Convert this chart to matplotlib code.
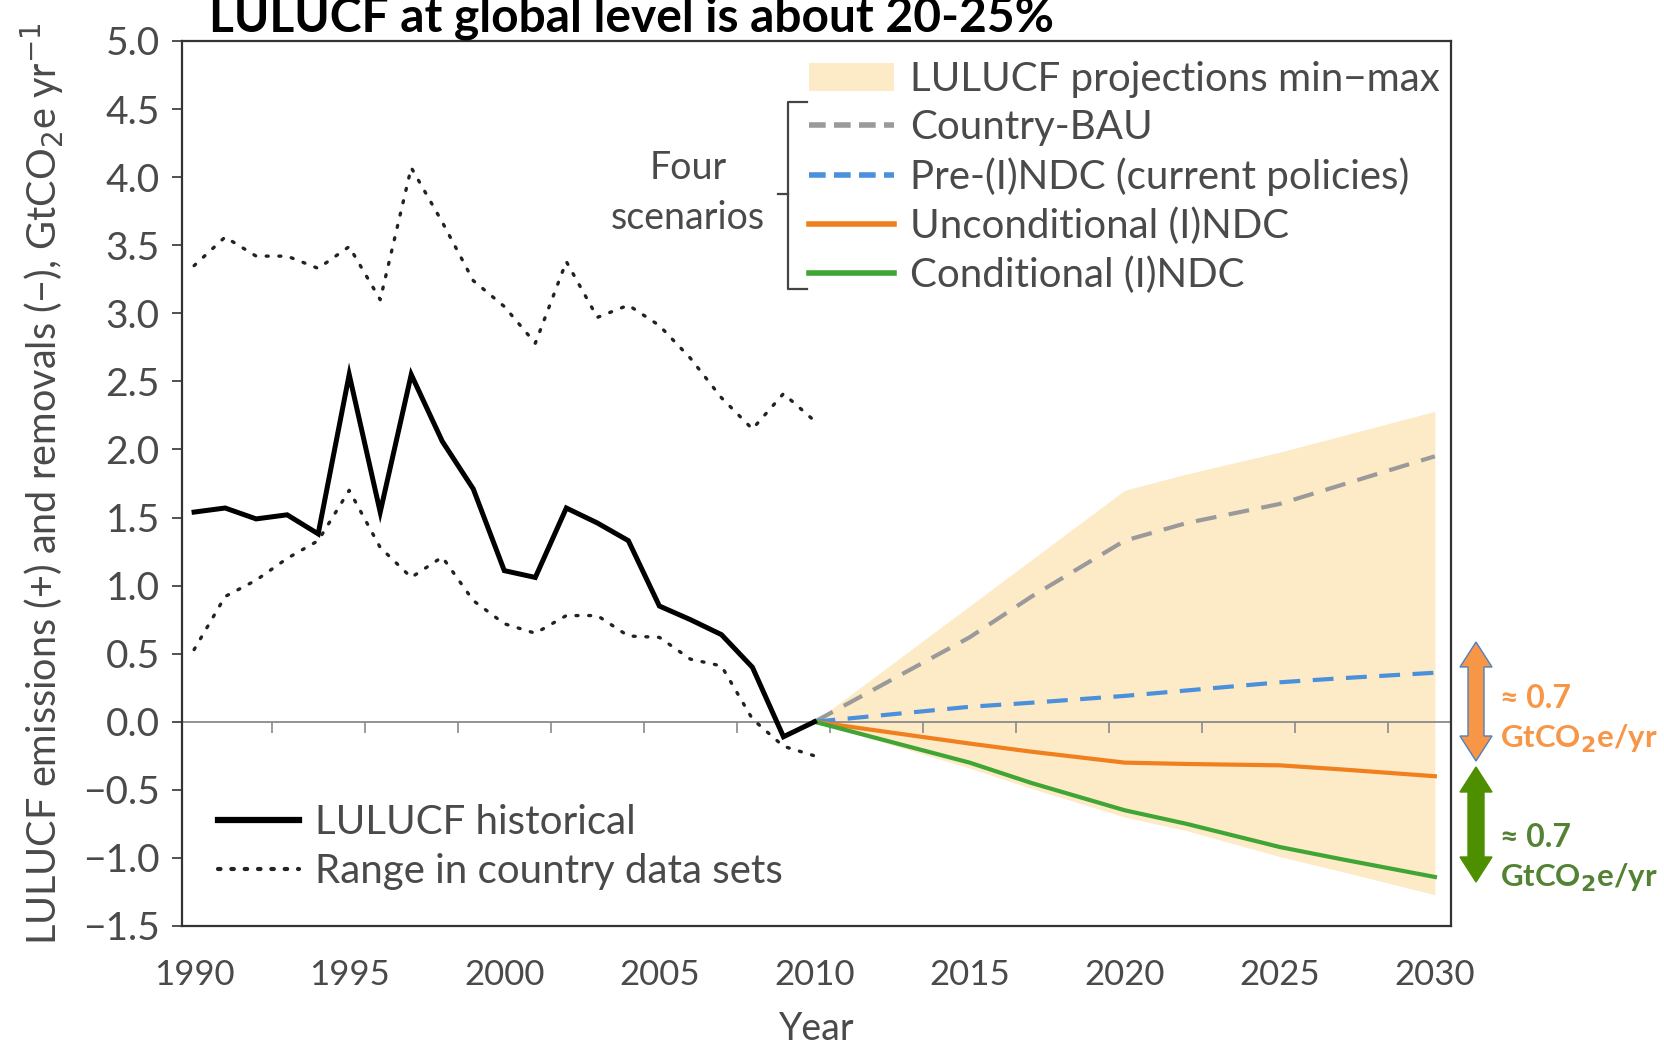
import matplotlib
matplotlib.use("Agg")
import matplotlib.pyplot as plt
from matplotlib.lines import Line2D
from matplotlib.markers import TICKDOWN
from matplotlib.patches import Patch, Polygon
import numpy as np

# ---- data -------------------------------------------------------------
hist_years = list(range(1990, 2011))
hist_lulucf = [1.54, 1.57, 1.49, 1.52, 1.38, 2.55, 1.54, 2.55, 2.06, 1.71, 1.11,
               1.06, 1.57, 1.46, 1.33, 0.85, 0.75, 0.64, 0.40, -0.11, 0.00]
range_max = [3.35, 3.56, 3.42, 3.42, 3.33, 3.49, 3.10, 4.07, 3.67, 3.24, 3.05,
             2.78, 3.38, 2.97, 3.06, 2.91, 2.67, 2.38, 2.15, 2.41, 2.21]
range_min = [0.53, 0.92, 1.04, 1.20, 1.33, 1.70, 1.28, 1.06, 1.21, 0.89, 0.72,
             0.65, 0.78, 0.78, 0.63, 0.62, 0.46, 0.41, 0.02, -0.18, -0.25]

proj_years = [2010, 2015, 2017, 2020, 2022, 2025, 2027, 2030]
proj_max = [0.00, 0.85, 1.19, 1.70, 1.82, 1.98, 2.10, 2.28]
proj_min = [0.00, -0.34, -0.49, -0.70, -0.80, -0.99, -1.10, -1.27]
country_bau = [0.00, 0.62, 0.92, 1.33, 1.46, 1.60, 1.74, 1.95]
pre_indc = [0.00, 0.11, 0.14, 0.19, 0.23, 0.29, 0.32, 0.36]
unconditional = [0.00, -0.16, -0.22, -0.30, -0.31, -0.32, -0.35, -0.40]
conditional = [0.00, -0.30, -0.45, -0.65, -0.75, -0.92, -1.01, -1.14]

x_ticks = [1990, 1995, 2000, 2005, 2010, 2015, 2020, 2025, 2030]
y_ticks = [5.0, 4.5, 4.0, 3.5, 3.0, 2.5, 2.0, 1.5, 1.0, 0.5, 0.0, -0.5, -1.0, -1.5]
zero_line_ticks = [1992.5, 1995.5, 1998.5, 2001.5, 2004.5, 2007.5, 2010.5,
                   2013.5, 2016.5, 2019.5, 2022.5, 2025.5, 2028.5]

# ---- style ------------------------------------------------------------
W, H = 1665, 1048
FONT = "Lato"
TXT = "#4a4a4a"
C_BAND = "#fdeac6"
C_BAU = "#9a9a9a"
C_PRE = "#4a90dc"
C_UNC = "#f07f1e"
C_CON = "#3fa535"

plt.rcParams["font.family"] = [FONT, "DejaVu Sans"]

fig = plt.figure(figsize=(W / 100, H / 100), dpi=100)
fig.patch.set_facecolor("white")


def fx(px):
    return px / W


def fy(py):
    return 1 - py / H


ax = fig.add_axes([fx(182), fy(926), fx(1451) - fx(182), fy(41) - fy(926)])

ax.fill_between(proj_years, proj_min, proj_max, color=C_BAND, lw=0, zorder=1)
ax.axhline(0, color="#8a8a8a", lw=1.3, zorder=2)
ax.plot(zero_line_ticks, [0] * len(zero_line_ticks), ls="none", marker=TICKDOWN,
        ms=8, mew=1.2, color="#8a8a8a", zorder=2)

ax.plot(proj_years, country_bau, color=C_BAU, lw=3, ls=(0, (5, 3)), zorder=3)
ax.plot(proj_years, pre_indc, color=C_PRE, lw=3, ls=(0, (5, 3)), zorder=3)
ax.plot(proj_years, unconditional, color=C_UNC, lw=3, zorder=3)
ax.plot(proj_years, conditional, color=C_CON, lw=3, zorder=3)

dot = (0, (0.6, 3.2))
ax.plot(hist_years, range_max, color="#222222", lw=2.4, ls=dot,
        dash_capstyle="round", zorder=4)
ax.plot(hist_years, range_min, color="#222222", lw=2.4, ls=dot,
        dash_capstyle="round", zorder=4)
ax.plot(hist_years, hist_lulucf, color="black", lw=3.6, zorder=5,
        solid_joinstyle="miter")

ax.set_xlim(1989.61, 2030.52)
ax.set_ylim(-1.5, 5.0)
ax.set_xticks(x_ticks)
ax.set_xticklabels([str(t) for t in x_ticks])
ax.set_yticks(y_ticks)
ax.set_yticklabels([f"{t:.1f}".replace("-", "\u2212") for t in y_ticks])
ax.tick_params(axis="x", length=0, pad=24, labelsize=25, labelcolor=TXT)
ax.tick_params(axis="y", length=7, width=1.2, pad=9, labelsize=28,
               labelcolor=TXT, color="#333333")
for s in ax.spines.values():
    s.set_color("#333333")
    s.set_linewidth(1.6)

ax.set_xlabel("Year", fontsize=27, color=TXT, labelpad=14)
ax.set_ylabel("LULUCF emissions (+) and removals (\u2212), GtCO$_2$e yr$^{-1}$",
              fontsize=28.5, color=TXT, labelpad=12)

# ---- scenario legend ----------------------------------------------------
h_top = [
    Patch(facecolor=C_BAND, edgecolor="none"),
    Line2D([], [], color=C_BAU, lw=4, ls=(0, (3, 1.5))),
    Line2D([], [], color=C_PRE, lw=4, ls=(0, (3, 1.5))),
    Line2D([], [], color=C_UNC, lw=4),
    Line2D([], [], color=C_CON, lw=4),
]
l_top = ["LULUCF projections min\u2212max", "Country-BAU",
         "Pre-(I)NDC (current policies)", "Unconditional (I)NDC",
         "Conditional (I)NDC"]
fig.legend(h_top, l_top, loc="upper left",
           bbox_to_anchor=(fx(809), fy(61)), frameon=False,
           fontsize=29, handlelength=2.1, handletextpad=0.4,
           labelspacing=0.28, borderpad=0, borderaxespad=0,
           labelcolor=TXT)

# bracket grouping the four scenarios
bx = [fx(807), fx(788), fx(788), fx(807)]
by = [fy(102), fy(102), fy(289), fy(289)]
fig.add_artist(Line2D(bx, by, color="#444444", lw=1.6))
fig.add_artist(Line2D([fx(788), fx(778)], [fy(194), fy(194)], color="#444444", lw=1.6))
fig.text(fx(688), fy(193), "Four\nscenarios", ha="center", va="center",
         fontsize=27, color=TXT, linespacing=1.45)

# ---- historical legend ---------------------------------------------------
h_bot = [Line2D([], [], color="black", lw=4.5),
         Line2D([], [], color="#222222", lw=3, ls=(0, (0.6, 2.6)),
                dash_capstyle="round")]
l_bot = ["LULUCF historical", "Range in country data sets"]
fig.legend(h_bot, l_bot, loc="upper left", bbox_to_anchor=(fx(218), fy(804)),
           frameon=False, fontsize=29, handlelength=2.0, handletextpad=0.4,
           labelspacing=0.3, borderpad=0, borderaxespad=0, labelcolor=TXT)

# ---- title ---------------------------------------------------------------
fig.text(fx(209), fy(32), "LULUCF at global level is about 20-25%",
         fontsize=34.5, fontweight="bold", color="black", va="baseline",
         family=["Lato", "DejaVu Sans"])


# ---- gap arrows outside the axes -----------------------------------------
def double_arrow(cx, ytop, ybot, face, edge, half_shaft=8, half_head=16, head=25):
    pts = [(cx, ytop), (cx + half_head, ytop + head), (cx + half_shaft, ytop + head),
           (cx + half_shaft, ybot - head), (cx + half_head, ybot - head), (cx, ybot),
           (cx - half_head, ybot - head), (cx - half_shaft, ybot - head),
           (cx - half_shaft, ytop + head), (cx - half_head, ytop + head)]
    pts = [(fx(x), fy(y)) for x, y in pts]
    fig.add_artist(Polygon(pts, closed=True, facecolor=face, edgecolor=edge,
                           lw=1.0, transform=fig.transFigure))


C_ORA = "#f79646"
C_GRN_A = "#4e8f00"
C_GRN_T = "#548235"
double_arrow(1476, 642, 761, C_ORA, "#4f81bd")
double_arrow(1476, 767, 882, C_GRN_A, C_GRN_A)

for y0, col in ((708, C_ORA), (847, C_GRN_T)):
    fig.text(fx(1500), fy(y0), "\u2248 0.7", fontsize=23, fontweight="bold",
             color=col, va="baseline", family=["Lato", "DejaVu Sans"])
    fig.text(fx(1500), fy(y0 + 40), "GtCO$_\\mathbf{2}$e/yr", fontsize=22.5,
             fontweight="bold", color=col, va="baseline",
             family=["Lato", "DejaVu Sans"])

fig.savefig("out.png", dpi=100)
